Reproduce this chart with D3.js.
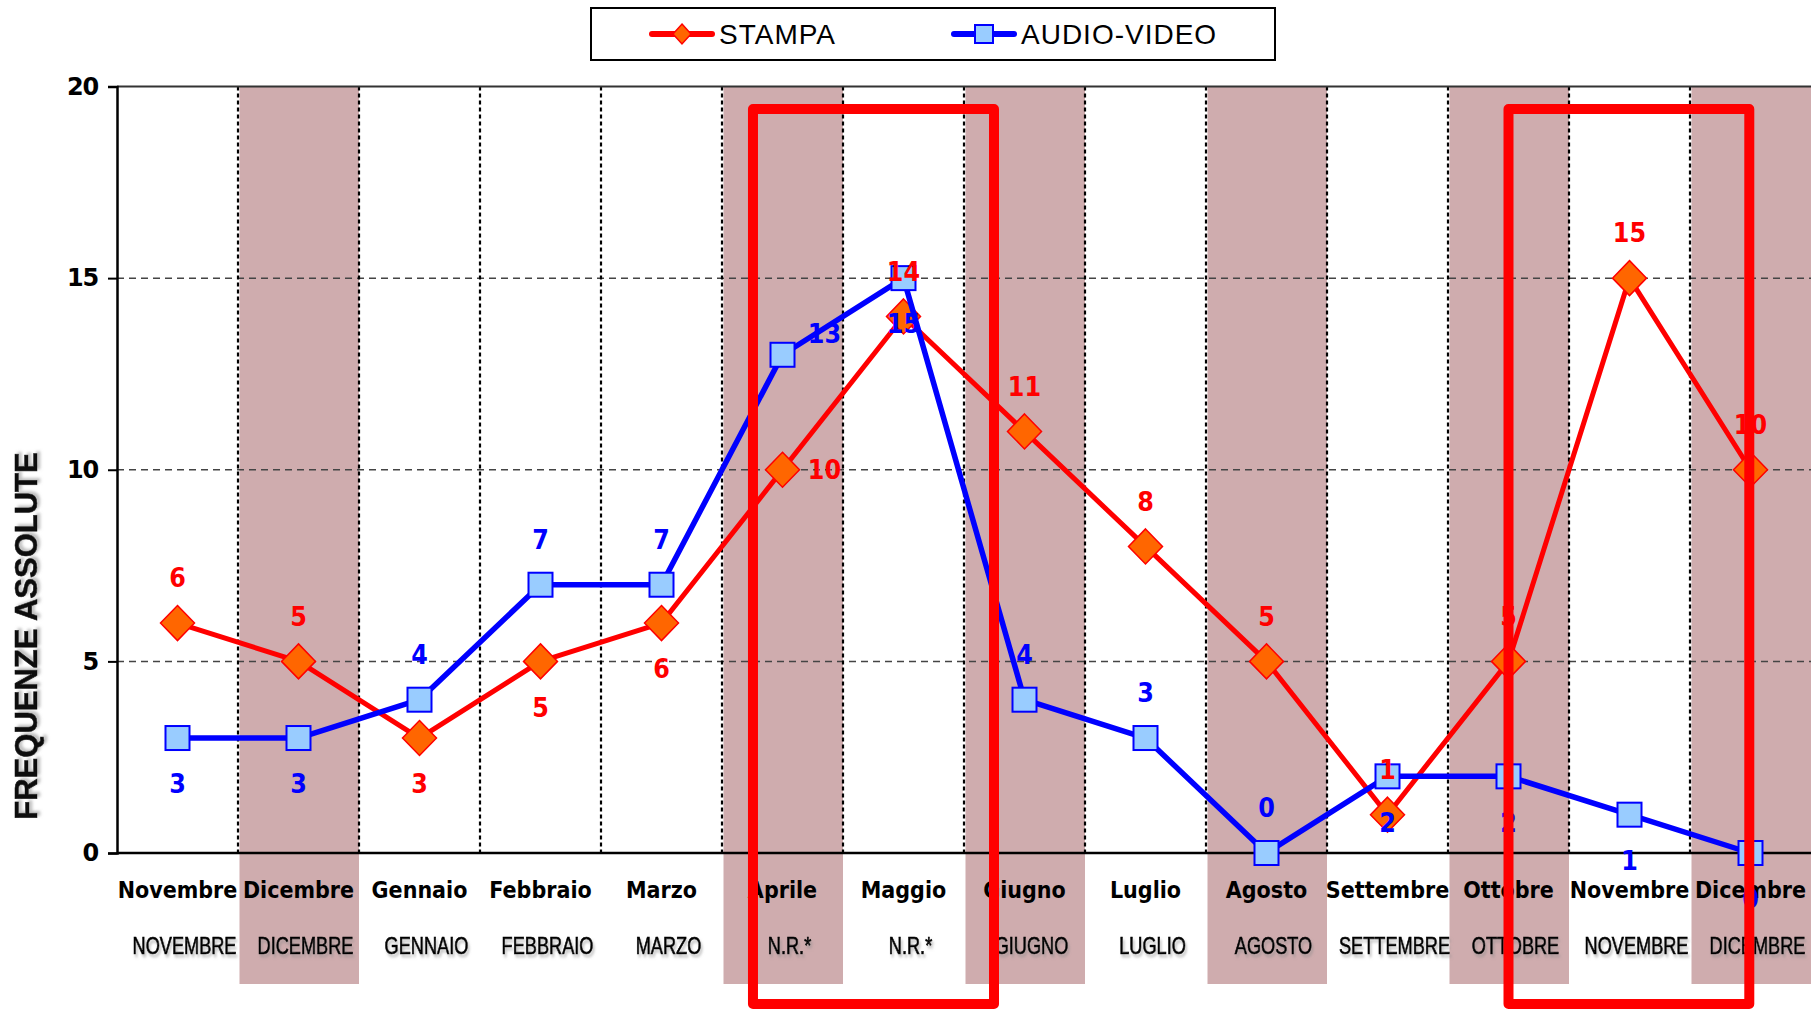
<!DOCTYPE html>
<html>
<head>
<meta charset="utf-8">
<script src="https://cdn.jsdelivr.net/npm/d3@7"></script>
<style>
    html, body { margin: 0; padding: 0; background: #fff; }
    svg { display: block; }
</style>
</head>
<body>
<svg id="chart"></svg>
<script>
// ===== DATA =====
const mesi = ['Novembre', 'Dicembre', 'Gennaio', 'Febbraio', 'Marzo', 'Aprile', 'Maggio',
    'Giugno', 'Luglio', 'Agosto', 'Settembre', 'Ottobre', 'Novembre', 'Dicembre'];
const mesiSotto = ['NOVEMBRE', 'DICEMBRE', 'GENNAIO', 'FEBBRAIO', 'MARZO', 'N.R.*', 'N.R.*',
    'GIUGNO', 'LUGLIO', 'AGOSTO', 'SETTEMBRE', 'OTTOBRE', 'NOVEMBRE', 'DICEMBRE'];
const stampa = [6, 5, 3, 5, 6, 10, 14, 11, 8, 5, 1, 5, 15, 10];
const audioVideo = [3, 3, 4, 7, 7, 13, 15, 4, 3, 0, 2, 2, 1, 0];
const yTicks = [0, 5, 10, 15, 20];
const colonneEvidenziate = [1, 5, 7, 9, 11, 13];

// ===== LAYOUT =====
const width = 1811;
const height = 1009;
const plotLeft = 117;
const plotRight = 1811;
const plotTop = 86.5;
const plotBottom = 853;

const svg = d3.select('#chart')
    .attr('width', width)
    .attr('height', height)
    .attr('viewBox', `0 0 ${width} ${height}`);

const defs = svg.append('defs');
const shadow = defs.append('filter').attr('id', 'ombra')
    .attr('x', '-10%').attr('y', '-30%').attr('width', '130%').attr('height', '180%');
shadow.append('feDropShadow')
    .attr('dx', 2).attr('dy', 3).attr('stdDeviation', 1.6)
    .attr('flood-color', '#888').attr('flood-opacity', 0.55);

const x = d3.scaleBand()
    .domain(d3.range(mesi.length))
    .range([plotLeft, plotRight])
    .padding(0);
const step = x.step();
const cx = i => x(i) + x.bandwidth() / 2;

const y = d3.scaleLinear()
    .domain([0, 20])
    .range([plotBottom, plotTop]);

// ===== SHADED COLUMNS =====
svg.append('g')
    .selectAll('rect')
    .data(colonneEvidenziate)
    .join('rect')
    .attr('x', d => x(d) + 1.5)
    .attr('y', plotTop)
    .attr('width', step - 1.5)
    .attr('height', 984 - plotTop)
    .attr('fill', '#CFACAE');

// ===== GRID =====
svg.append('g')
    .selectAll('line')
    .data(yTicks.filter(t => t > 0 && t < 20))
    .join('line')
    .attr('x1', plotLeft).attr('x2', plotRight)
    .attr('y1', d => y(d)).attr('y2', d => y(d))
    .attr('stroke', '#444')
    .attr('stroke-width', 1.5)
    .attr('stroke-dasharray', '7,5');

svg.append('g')
    .selectAll('line')
    .data(d3.range(1, mesi.length))
    .join('line')
    .attr('x1', d => x(d)).attr('x2', d => x(d))
    .attr('y1', plotTop).attr('y2', plotBottom)
    .attr('stroke', '#000')
    .attr('stroke-width', 2.2)
    .attr('stroke-dasharray', '4,3');

// top border
svg.append('line')
    .attr('x1', plotLeft).attr('x2', plotRight)
    .attr('y1', y(20)).attr('y2', y(20))
    .attr('stroke', '#333').attr('stroke-width', 2);

// ===== AXES =====
const yAxis = svg.append('g')
    .attr('transform', `translate(${plotLeft},0)`)
    .call(d3.axisLeft(y).tickValues(yTicks).tickSize(9).tickPadding(10));
yAxis.select('.domain').attr('stroke', '#000').attr('stroke-width', 2.5);
yAxis.selectAll('.tick line').attr('stroke', '#000').attr('stroke-width', 2);
yAxis.selectAll('.tick text')
    .attr('font-family', 'DejaVu Sans, Verdana, sans-serif')
    .attr('font-weight', 'bold')
    .attr('font-size', 24)
    .attr('fill', '#000')
    .style('letter-spacing', '-1.2px');

svg.append('line')
    .attr('x1', plotLeft).attr('x2', plotRight)
    .attr('y1', plotBottom).attr('y2', plotBottom)
    .attr('stroke', '#000').attr('stroke-width', 2.5);

// category labels (two rows)
const catRow = svg.append('g');
mesi.forEach((m, i) => {
    catRow.append('text')
        .attr('transform', `translate(${cx(i)},${898}) scale(0.9,1)`)
        .attr('text-anchor', 'middle')
        .attr('font-family', 'DejaVu Sans, Verdana, sans-serif')
        .attr('font-weight', 'bold')
        .attr('font-size', 23)
        .attr('fill', '#000')
        .text(m);
});
mesiSotto.forEach((m, i) => {
    catRow.append('text')
        .attr('transform', `translate(${cx(i) + 7},${954}) scale(0.79,1)`)
        .attr('text-anchor', 'middle')
        .attr('font-family', 'Liberation Sans, Arial, sans-serif')
        .attr('font-size', 23)
        .attr('fill', '#000')
        .attr('stroke', '#000')
        .attr('stroke-width', 0.7)
        .attr('filter', 'url(#ombra)')
        .text(m);
});

// y title
svg.append('text')
    .attr('transform', `translate(37,636) rotate(-90)`)
    .attr('text-anchor', 'middle')
    .attr('font-family', 'Liberation Sans, Arial, sans-serif')
    .attr('font-weight', 'bold')
    .attr('font-size', 31)
    .attr('fill', '#111')
    .attr('stroke', '#111')
    .attr('stroke-width', 0.6)
    .attr('filter', 'url(#ombra)')
    .text('FREQUENZE ASSOLUTE');

// ===== SERIES =====
const line = d3.line()
    .x((d, i) => cx(i))
    .y(d => y(d));

const diamond = (w, h) => `M0,${-h}L${w},0L0,${h}L${-w},0Z`;

// STAMPA
svg.append('path')
    .datum(stampa)
    .attr('d', line)
    .attr('fill', 'none')
    .attr('stroke', '#FF0000')
    .attr('stroke-width', 5)
    .attr('stroke-linejoin', 'round');
svg.append('g')
    .selectAll('path')
    .data(stampa)
    .join('path')
    .attr('transform', (d, i) => `translate(${cx(i)},${y(d)})`)
    .attr('d', diamond(17, 17.5))
    .attr('fill', '#FF6600')
    .attr('stroke', '#FF0000')
    .attr('stroke-width', 1.5);

// AUDIO-VIDEO
svg.append('path')
    .datum(audioVideo)
    .attr('d', line)
    .attr('fill', 'none')
    .attr('stroke', '#0000FF')
    .attr('stroke-width', 5.5)
    .attr('stroke-linejoin', 'round');
svg.append('g')
    .selectAll('rect')
    .data(audioVideo)
    .join('rect')
    .attr('x', (d, i) => cx(i) - 12)
    .attr('y', d => y(d) - 12)
    .attr('width', 24)
    .attr('height', 24)
    .attr('fill', '#99CCFF')
    .attr('stroke', '#0000FF')
    .attr('stroke-width', 2);

// ===== DATA LABELS =====
const posStampa = ['a', 'a', 'b', 'b', 'b', 'r', 'a', 'a', 'a', 'a', 'a', 'a', 'a', 'a'];
const posAudio = ['b', 'b', 'a', 'a', 'a', 'r', 'b', 'a', 'a', 'a', 'b', 'b', 'b', 'b'];

function addLabels(values, pos, color, rightDy) {
    svg.append('g')
        .selectAll('text')
        .data(values)
        .join('text')
        .attr('transform', (d, i) => {
            let dx = 0, dy = 0;
            if (pos[i] === 'a') dy = -45;
            if (pos[i] === 'b') dy = 46;
            if (pos[i] === 'r') { dx = 42; dy = rightDy; }
            return `translate(${cx(i) + dx},${y(d) + dy}) scale(0.92,1)`;
        })
        .attr('text-anchor', 'middle')
        .attr('dy', '0.36em')
        .attr('font-family', 'DejaVu Sans, Verdana, sans-serif')
        .attr('font-weight', 'bold')
        .attr('font-size', 26)
        .attr('fill', color)
        .text(d => d);
}
addLabels(stampa, posStampa, '#FF0000', 0);
addLabels(audioVideo, posAudio, '#0000FF', -21);

// ===== HIGHLIGHT BOXES =====
const riquadri = [[5.256, 7.248], [11.5, 13.49]];
svg.append('g')
    .selectAll('rect')
    .data(riquadri)
    .join('rect')
    .attr('x', d => plotLeft + d[0] * step)
    .attr('y', 109)
    .attr('width', d => (d[1] - d[0]) * step)
    .attr('height', 1004 - 109)
    .attr('fill', 'none')
    .attr('stroke', '#FF0000')
    .attr('stroke-width', 10)
    .attr('stroke-linejoin', 'round');

// ===== LEGEND =====
const legend = svg.append('g');
legend.append('rect')
    .attr('x', 591).attr('y', 8)
    .attr('width', 684).attr('height', 52)
    .attr('fill', '#fff')
    .attr('stroke', '#000')
    .attr('stroke-width', 2);

const legendItems = [
    { name: 'STAMPA', color: '#FF0000', fill: '#FF6600', shape: 'diamond', x: 652 },
    { name: 'AUDIO-VIDEO', color: '#0000FF', fill: '#99CCFF', shape: 'square', x: 954 }
];
legendItems.forEach(item => {
    const g = legend.append('g').attr('transform', `translate(${item.x},34)`);
    g.append('line')
        .attr('x1', 0).attr('x2', 60)
        .attr('y1', 0).attr('y2', 0)
        .attr('stroke', item.color)
        .attr('stroke-width', 6)
        .attr('stroke-linecap', 'round');
    if (item.shape === 'diamond') {
        g.append('path')
            .attr('transform', 'translate(30,0)')
            .attr('d', diamond(9, 10))
            .attr('fill', item.fill)
            .attr('stroke', item.color)
            .attr('stroke-width', 1.5);
    } else {
        g.append('rect')
            .attr('x', 21).attr('y', -9)
            .attr('width', 18).attr('height', 18)
            .attr('fill', item.fill)
            .attr('stroke', item.color)
            .attr('stroke-width', 2);
    }
    g.append('text')
        .attr('x', 67)
        .attr('y', 0)
        .attr('dy', '0.36em')
        .attr('font-family', 'Liberation Sans, Arial, sans-serif')
        .attr('font-size', 28)
        .style('letter-spacing', '1px')
        .attr('fill', '#000')
        .text(item.name);
});
</script>
</body>
</html>
